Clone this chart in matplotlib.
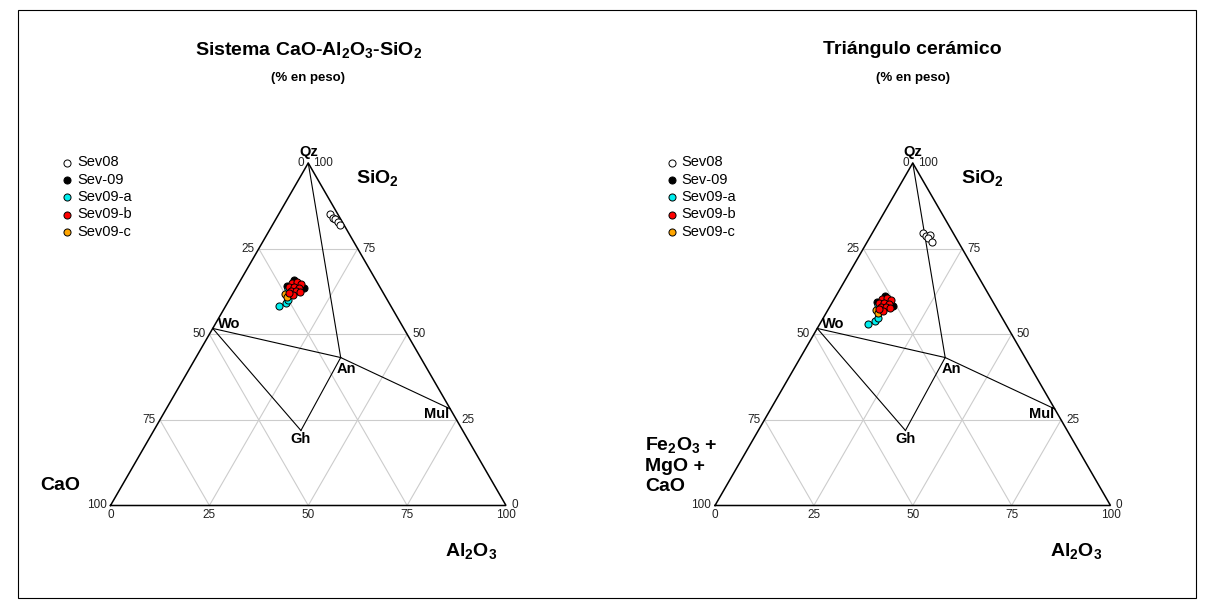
import numpy as np
import matplotlib
matplotlib.use("Agg")
import matplotlib.pyplot as plt
from matplotlib.patches import Rectangle

plt.rcParams['font.family'] = ['Liberation Sans', 'DejaVu Sans']
plt.rcParams['mathtext.fontset'] = 'custom'
plt.rcParams['mathtext.rm'] = 'Liberation Sans:bold'
plt.rcParams['mathtext.default'] = 'rm'

FIG_W, FIG_H, DPI = 1213, 608, 100
H3 = np.sqrt(3) / 2
PT = 72.0 / DPI  # points per pixel

# ---------------------------------------------------------------
# Reference phases, wt %: SiO2, Al2O3, CaO
# ---------------------------------------------------------------
mineral_names = ["Qz", "Wo", "An", "Gh", "Mul"]
mineral_sio2 = [100.0, 51.7, 43.2, 21.9, 28.2]
mineral_al2o3 = [0.0, 0.0, 36.6, 37.2, 71.8]
mineral_cao = [0.0, 48.3, 20.2, 40.9, 0.0]
tie_lines = [("Qz", "An"), ("Wo", "An"), ("An", "Mul"), ("Wo", "Gh"), ("Gh", "An")]

series_labels = ["Sev08", "Sev-09", "Sev09-a", "Sev09-b", "Sev09-c"]
series_colors = ["white", "black", "#00EEEE", "#FF0000", "#FFA500"]

# ---------------------------------------------------------------
# Samples in the CaO-Al2O3-SiO2 system: (SiO2, Al2O3, CaO)
# ---------------------------------------------------------------
cas_sev08 = [(85.1, 13.0, 1.9), (83.9, 14.3, 1.8), (83.7, 14.9, 1.4),
             (82.8, 16.1, 1.1), (81.9, 17.1, 1.0)]
cas_sev09 = [(65.8, 13.5, 20.7), (63.5, 17.2, 19.3), (64.1, 12.6, 23.3)]
cas_sev09a = [(58.3, 13.5, 28.2), (59.1, 14.8, 26.1), (60.0, 14.9, 25.1),
              (63.2, 13.3, 23.5)]
cas_sev09b = [(65.0, 13.4, 21.6), (65.3, 14.5, 20.2), (64.7, 15.8, 19.5),
              (63.8, 13.2, 23.0), (63.8, 14.5, 21.7), (63.5, 15.9, 20.6),
              (62.6, 14.3, 23.1), (62.6, 15.6, 21.8), (62.3, 16.7, 21.0),
              (61.5, 15.4, 23.1), (62.0, 14.1, 23.9)]
cas_sev09c = [(61.8, 13.2, 25.0), (60.9, 14.2, 24.9)]

# ---------------------------------------------------------------
# Samples in the ceramic triangle: (SiO2, Al2O3, Fe2O3+MgO+CaO)
# ---------------------------------------------------------------
cer_sev08 = [(79.7, 12.7, 7.6), (78.8, 14.0, 7.2), (79.0, 14.9, 6.1),
             (78.1, 14.8, 7.1), (77.0, 16.4, 6.6)]
cer_sev09 = [(61.2, 12.4, 26.4), (58.3, 15.9, 25.8), (59.4, 11.3, 29.3)]
cer_sev09a = [(53.0, 12.2, 34.8), (53.9, 13.5, 32.6), (54.7, 13.8, 31.5),
              (58.5, 11.9, 29.6)]
cer_sev09b = [(60.3, 12.1, 27.6), (60.6, 13.2, 26.2), (60.0, 14.5, 25.5),
              (59.1, 11.9, 29.0), (59.1, 13.2, 27.7), (58.8, 14.6, 26.6),
              (58.0, 13.0, 29.0), (58.0, 14.3, 27.7), (57.7, 15.4, 26.9),
              (56.8, 14.1, 29.1), (57.4, 12.8, 29.8)]
cer_sev09c = [(57.1, 12.2, 30.7), (56.2, 13.1, 30.7)]

tick_values = [0, 25, 50, 75, 100]


def tern(sio2, al2o3, third):
    """Ternary -> cartesian (SiO2 apex on top, third component bottom-left)."""
    s = np.asarray(sio2, float)
    a = np.asarray(al2o3, float)
    t = np.asarray(third, float)
    tot = s + a + t
    s, a = s / tot, a / tot
    return a + s / 2.0, s * H3


fig = plt.figure(figsize=(FIG_W / DPI, FIG_H / DPI), dpi=DPI)
fig.patch.set_facecolor("white")


def fx(px):
    return px / FIG_W


def fy(py):
    return 1.0 - py / FIG_H


# outer frame
fig.add_artist(Rectangle((fx(18), fy(598)), fx(1196) - fx(18), fy(10) - fy(598),
                         transform=fig.transFigure, fill=False,
                         edgecolor="black", linewidth=0.8))

TRI_W, TRI_H, BASE_Y = 395.5, 342.5, 505.5


def panel(x0, title, third_label, third_label_xy, samples):
    ax = fig.add_axes([fx(x0), fy(BASE_Y), TRI_W / FIG_W, TRI_H / FIG_H])
    ax.set_xlim(0, 1)
    ax.set_ylim(0, H3)
    ax.axis("off")

    # grid
    for f in (25, 50, 75):
        g = 100 - f
        for p, q in [((f, 0, g), (f, g, 0)),
                     ((0, f, g), (g, f, 0)),
                     ((0, g, f), (g, 0, f))]:
            xs, ys = tern([p[0], q[0]], [p[1], q[1]], [p[2], q[2]])
            ax.plot(xs, ys, color="#CCCCCC", lw=0.8, zorder=1, clip_on=False)

    # triangle outline
    xs, ys = tern([0, 0, 100, 0], [0, 100, 0, 0], [100, 0, 0, 100])
    ax.plot(xs, ys, color="black", lw=1.1, zorder=3, clip_on=False,
            solid_joinstyle="miter")

    # tie lines between phases
    mx, my = tern(mineral_sio2, mineral_al2o3, mineral_cao)
    pos = {n: (mx[i], my[i]) for i, n in enumerate(mineral_names)}
    for a, b in tie_lines:
        ax.plot([pos[a][0], pos[b][0]], [pos[a][1], pos[b][1]],
                color="black", lw=0.8, zorder=2, clip_on=False)

    # phase labels
    label_off = {"Qz": ((0, 11), "center", "center"),
                 "Wo": ((5, 4), "left", "center"),
                 "An": ((6, -11), "center", "center"),
                 "Gh": ((0, -9), "center", "center"),
                 "Mul": ((-1, -5), "right", "center")}
    for n in mineral_names:
        (dx, dy), ha, va = label_off[n]
        ax.annotate(n, pos[n], xytext=(dx * PT, dy * PT), textcoords="offset points",
                    ha=ha, va=va, fontsize=10.5, fontweight="bold", zorder=6,
                    annotation_clip=False)

    # tick labels
    for v in tick_values:
        # left edge: third component
        s = 100 - v
        lx, ly = tern(s, 0, v)
        ax.annotate(str(v), (lx, ly), xytext=(-4 * PT, 0), textcoords="offset points",
                    ha="right", va="center", fontsize=8.5, color="#222222",
                    annotation_clip=False)
        # right edge: SiO2
        rx, ry = tern(v, 100 - v, 0)
        ax.annotate(str(v), (rx, ry), xytext=(5 * PT, 0), textcoords="offset points",
                    ha="left", va="center", fontsize=8.5, color="#222222",
                    annotation_clip=False)
        # base: Al2O3
        bx, by = tern(0, v, 100 - v)
        ax.annotate(str(v), (bx, by), xytext=(0, -10 * PT), textcoords="offset points",
                    ha="center", va="center", fontsize=8.5, color="#222222",
                    annotation_clip=False)

    # samples
    handles = []
    order = [0, 1, 2, 4, 3]  # red drawn last
    for k in order:
        data = samples[k]
        s = [d[0] for d in data]
        a = [d[1] for d in data]
        t = [d[2] for d in data]
        x, y = tern(s, a, t)
        h = ax.scatter(x, y, s=26, facecolor=series_colors[k], edgecolor="black",
                       linewidths=0.7, zorder=5 + k * 0.01 + (1 if k == 3 else 0),
                       clip_on=False, label=series_labels[k])
        handles.append((k, h))
    handles = [h for k, h in sorted(handles)]

    ax.legend(handles=handles, loc="upper left",
              bbox_to_anchor=(fx(x0 - 48.5), fy(155.5)),
              bbox_transform=fig.transFigure, frameon=False,
              fontsize=10.5, handlelength=0.7, handletextpad=0.35,
              labelspacing=0.225, borderpad=0, borderaxespad=0,
              scatterpoints=1)

    cx = x0 + TRI_W / 2
    fig.text(fx(cx), fy(50), title, ha="center", va="center",
             fontsize=14, fontweight="bold")
    fig.text(fx(cx), fy(78), "(% en peso)", ha="center", va="center",
             fontsize=9.5, fontweight="bold")
    fig.text(fx(x0 + 267), fy(178), "SiO$_2$", ha="center", va="center",
             fontsize=14, fontweight="bold")
    fig.text(fx(x0 + 361), fy(551), "Al$_2$O$_3$", ha="center", va="center",
             fontsize=14, fontweight="bold")
    tx, ty = third_label_xy
    fig.text(fx(x0 + tx), fy(ty), third_label, ha="left", va="center",
             fontsize=14, fontweight="bold", linespacing=1.22)
    return ax


panel(110.5, "Sistema CaO-Al$_2$O$_3$-SiO$_2$", "CaO", (-70, 486),
      [cas_sev08, cas_sev09, cas_sev09a, cas_sev09b, cas_sev09c])
panel(715.0, "Triángulo cerámico", "Fe$_2$O$_3$ +\nMgO +\nCaO", (-70, 465),
      [cer_sev08, cer_sev09, cer_sev09a, cer_sev09b, cer_sev09c])

fig.savefig("out.png", dpi=DPI, facecolor="white")
